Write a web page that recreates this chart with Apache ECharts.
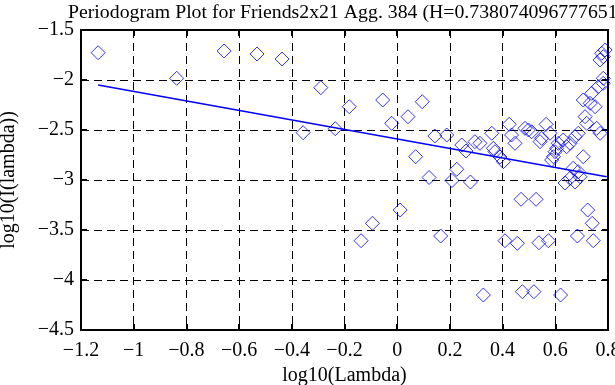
<!DOCTYPE html>
<html><head><meta charset="utf-8">
<script src="https://cdn.jsdelivr.net/npm/echarts@6/dist/echarts.min.js"></script>
<style>html,body{margin:0;padding:0;background:#fff}#c{width:615px;height:385px}</style>
</head><body><div id="c"></div>
<script>
const titleText = "Periodogram Plot for Friends2x21 Agg. 384 (H=0.738074096777651)";
const xName = "log10(Lambda)";
const yName = "log10(I(lambda))";
const xRange = [-1.2, 0.8, 0.2];
const yRange = [-4.5, -1.5, 0.5];

const logLambda = [-1.135,-0.837,-0.657,-0.532,-0.437,-0.290,-0.357,-0.235,-0.182,-0.055,
  0.095,0.041,-0.021,0.143,0.188,0.070,0.245,0.261,0.121,0.226,
  0.208,0.278,0.295,0.314,0.359,0.365,0.371,0.390,0.403,0.425,
  0.434,0.447,0.485,0.498,0.510,0.548,0.542,0.565,0.580,0.611,
  0.605,0.599,0.593,0.586,0.630,0.643,0.656,0.675,0.687,0.706,
  0.668,0.687,0.656,0.675,0.694,0.637,0.713,0.719,0.706,0.732,
  0.751,0.738,0.757,0.770,0.763,0.782,0.776,0.789,0.782,0.770,
  0.782,0.470,0.527,0.723,0.740,0.409,0.456,0.538,0.574,0.684,
  0.744,0.327,0.475,0.519,0.620,-0.137,-0.094,0.011,0.165];
const logI = [-1.727,-1.983,-1.710,-1.740,-1.790,-2.077,-2.527,-2.487,-2.267,-2.200,
  -2.217,-2.367,-2.433,-2.560,-2.550,-2.767,-2.650,-2.710,-2.975,-2.893,
  -3.005,-3.020,-2.617,-2.633,-2.533,-2.683,-2.717,-2.770,-2.817,-2.443,
  -2.550,-2.633,-2.483,-2.500,-2.517,-2.583,-2.617,-2.443,-2.533,-2.633,
  -2.683,-2.717,-2.767,-2.800,-2.600,-2.667,-2.633,-2.567,-2.533,-2.767,
  -2.883,-2.917,-2.983,-3.020,-2.967,-3.030,-2.367,-2.433,-2.200,-2.233,
  -2.267,-2.133,-2.483,-2.533,-2.067,-2.033,-1.733,-1.700,-1.767,-1.800,
  -1.983,-3.193,-3.193,-3.300,-3.433,-3.607,-3.633,-3.627,-3.607,-3.560,
  -3.607,-4.150,-4.117,-4.117,-4.150,-3.607,-3.433,-3.300,-3.560];
const fitX = [-1.135, 0.795];
const fitY = [-2.05, -2.967];

const FONT = "Liberation Serif";
const FS = 20;
const fmt = v => String(parseFloat(Number(v).toFixed(2))).replace('-', '\u2212');
const chart = echarts.init(document.getElementById('c'), null, {renderer: 'canvas'});
const pts = logLambda.map((x, i) => [x, logI[i]]);
const fit = fitX.map((x, i) => [x, fitY[i]]);
const axisCommon = {
  axisLine: {show: true, onZero: false, lineStyle: {color: '#000', width: 2}},
  axisTick: {show: true, inside: true, length: 6, lineStyle: {color: '#000', width: 2}},
};
chart.setOption({
  animation: false,
  backgroundColor: '#fff',
  title: {text: titleText, left: 63, top: -2,
    textStyle: {fontFamily: FONT, fontSize: 19.8, fontWeight: 'normal', color: '#000'}},
  grid: {left: 81, right: 7, top: 30, bottom: 55, containLabel: false, outerBoundsMode: 'none'},
  xAxis: [
    Object.assign({type: 'value', position: 'bottom', min: xRange[0], max: xRange[1], interval: xRange[2],
      name: xName, nameLocation: 'middle', nameGap: 35,
      nameTextStyle: {fontFamily: FONT, fontSize: FS, color: '#000'},
      axisLabel: {formatter: fmt, fontFamily: FONT, fontSize: FS, color: '#000', margin: 11},
      splitLine: {show: true, lineStyle: {color: '#000', type: [8, 5], width: 1}}}, axisCommon),
    Object.assign({type: 'value', position: 'top', min: xRange[0], max: xRange[1], interval: xRange[2],
      axisLabel: {show: false}, splitLine: {show: false}}, axisCommon)
  ],
  yAxis: [
    Object.assign({type: 'value', position: 'left', min: yRange[0], max: yRange[1], interval: yRange[2],
      name: yName, nameLocation: 'middle', nameGap: 62, nameRotate: 90,
      nameTextStyle: {fontFamily: FONT, fontSize: FS, color: '#000'},
      axisLabel: {formatter: fmt, fontFamily: FONT, fontSize: FS, color: '#000', margin: 7},
      splitLine: {show: true, lineStyle: {color: '#000', type: [8, 5], width: 1}}}, axisCommon),
    Object.assign({type: 'value', position: 'right', min: yRange[0], max: yRange[1], interval: yRange[2],
      axisLabel: {show: false}, splitLine: {show: false}}, axisCommon)
  ],
  series: [
    {type: 'scatter', data: pts, symbol: 'diamond', symbolSize: [14, 14],
      itemStyle: {color: 'rgba(0,0,0,0)', borderColor: '#0000ff', borderWidth: 1}, z: 3},
    {type: 'line', data: fit, symbol: 'none', lineStyle: {color: '#0000ff', width: 1.5}, z: 4}
  ]
});
</script></body></html>
